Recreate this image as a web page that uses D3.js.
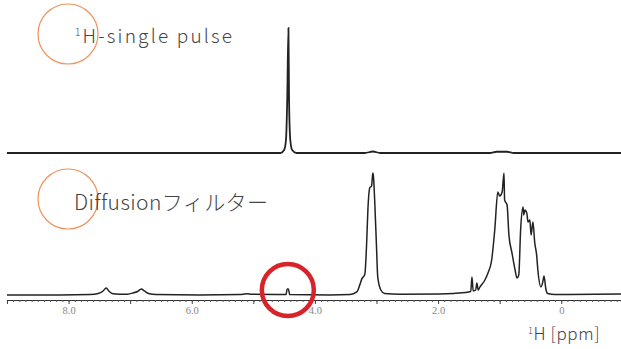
<!DOCTYPE html>
<html>
<head>
<meta charset="utf-8">
<script src="https://cdn.jsdelivr.net/npm/d3@7"></script>
<style>
  body { margin: 0; background: #fff; }
  svg { display: block; }
  .lbl { font-family: "Noto Sans CJK JP", "Noto Sans", sans-serif; font-weight: 300; fill: #444; }
  .tick text { font-family: "Liberation Serif", "DejaVu Serif", serif; fill: #888; }
</style>
</head>
<body>
<svg id="chart" width="621" height="349"></svg>
<script>
// top trace: 1H single pulse (ppm, relative intensity)
let top_ppm = [9.0, 4.56, 4.50, 4.47, 4.45, 4.43, 4.42, 4.40, 4.37, 4.30, 3.19, 3.06, 2.94, 1.16, 1.05, 0.88, 0.77, -0.97];
let top_int = [0, 0, 2.4, 10.4, 42, 100, 42, 10.4, 2.4, 0, 0, 1.2, 0, 0, 1, 1, 0, 0];

// bottom trace: diffusion filter
let bot_ppm = [9.0, 8.14, 7.65, 7.52, 7.44, 7.39, 7.34, 7.28, 7.17, 7.04, 6.96, 6.88, 6.82, 6.77, 6.70, 6.58,
    5.87, 5.22, 5.11, 5.02, 4.47, 4.45, 4.43, 4.41, 3.76, 3.43, 3.32, 3.27, 3.24, 3.19, 3.16, 3.14, 3.11,
    3.08, 3.06, 3.05, 3.03, 3.00, 2.98, 2.93, 2.87, 2.62, 1.97, 1.56, 1.47, 1.45, 1.43, 1.39, 1.37, 1.35,
    1.32, 1.24, 1.19, 1.13, 1.08, 1.03, 1.00, 0.96, 0.93, 0.92, 0.88, 0.85, 0.80, 0.75, 0.72, 0.69, 0.66,
    0.62, 0.61, 0.59, 0.56, 0.54, 0.51, 0.49, 0.46, 0.43, 0.40, 0.38, 0.33, 0.30, 0.28, 0.25, 0.22, 0.10, -0.97];
let bot_int = [0, 0, 0.4, 1.2, 3.3, 5.7, 2.9, 1.0, 0.6, 0.7, 1.6, 2.9, 4.9, 3.3, 1.2, 0.4,
    0, 0.4, 1.0, 0.6, 0.4, 4.9, 4.9, 0.4, 0, 0.4, 2.5, 8.5, 13.0, 17, 42.6, 69.7, 87.7,
    89.4, 100, 97.5, 78, 39.4, 14.8, 4.1, 1.2, 0.6, 0.8, 2.0, 2.9, 14.8, 3.3, 4.1, 9.8, 4.1,
    6.6, 12.3, 18, 28.7, 53.3, 84.4, 81.1, 84.4, 100, 78, 73.8, 49.2, 34.4, 20.5, 13.9, 16.4, 53.3,
    72.1, 65.6, 69.7, 67.2, 59.8, 61.5, 49.2, 59.8, 42.6, 32.8, 20.5, 6.6, 10.7, 15.6, 4.9, 1.2, 0.4, 0.8];

let major_ticks = [8, 6, 4, 2, 0];
let tick_labels = ["8.0", "6.0", "4.0", "2.0", "0"];
let highlight_ppm = 4.44;

let svg = d3.select("#chart");

let x = d3.scaleLinear().domain([9, -0.97]).range([7, 621]);
let y_top = d3.scaleLinear().domain([0, 100]).range([153, 28]);
let y_bot = d3.scaleLinear().domain([0, 100]).range([295, 173]);

function trace(ppm, ints, yscale) {
    let pts = ppm.map((p, i) => [p, ints[i]]);
    return d3.line()
        .x(d => x(d[0]))
        .y(d => yscale(d[1]))
        .curve(d3.curveMonotoneX)(pts);
}

svg.append("path")
    .attr("d", trace(top_ppm, top_int, y_top))
    .attr("fill", "none")
    .attr("stroke", "#222")
    .attr("stroke-width", 1.8);

svg.append("path")
    .attr("d", trace(bot_ppm, bot_int, y_bot))
    .attr("fill", "none")
    .attr("stroke", "#222")
    .attr("stroke-width", 1.5);

// ppm axis, minor ticks every 0.1
let minor = d3.range(90, -10, -1).map(d => d / 10);
svg.append("g")
    .attr("transform", "translate(0,300)")
    .call(d3.axisBottom(x).tickValues(minor).tickSize(2).tickFormat(""))
    .call(g => g.select(".domain").attr("stroke", "#333").attr("stroke-width", 1.2))
    .call(g => g.selectAll(".tick line").attr("stroke", "#555"));

svg.append("g")
    .attr("transform", "translate(0,300)")
    .call(d3.axisBottom(x).tickValues(d3.range(9, -1, -1)).tickSize(4).tickFormat(""))
    .call(g => g.select(".domain").remove())
    .call(g => g.selectAll(".tick line").attr("stroke", "#444"));

svg.append("g")
    .attr("transform", "translate(0,300)")
    .call(d3.axisBottom(x).tickValues(major_ticks).tickSize(4).tickPadding(3)
        .tickFormat((d, i) => tick_labels[i]))
    .call(g => g.select(".domain").remove())
    .call(g => g.selectAll(".tick line").remove())
    .call(g => g.selectAll(".tick text").attr("font-size", 10.5));

// labels
svg.append("circle").attr("cx", 68).attr("cy", 34).attr("r", 30)
    .attr("fill", "none").attr("stroke", "#f0925a").attr("stroke-width", 1.2);
svg.append("circle").attr("cx", 68).attr("cy", 199).attr("r", 30)
    .attr("fill", "none").attr("stroke", "#f0925a").attr("stroke-width", 1.2);

let t1 = svg.append("text").attr("class", "lbl").attr("x", 75).attr("y", 43)
    .attr("font-size", 19).attr("letter-spacing", 2.2);
t1.append("tspan").attr("font-size", 10).attr("dy", -7).text("1");
t1.append("tspan").attr("dy", 7).text("H-single pulse");

svg.append("text").attr("class", "lbl").attr("x", 74).attr("y", 210)
    .attr("font-size", 21).attr("letter-spacing", 0.4)
    .text("Diffusionフィルター");

let t3 = svg.append("text").attr("class", "lbl").attr("x", 528).attr("y", 340)
    .attr("font-size", 17).attr("letter-spacing", 0.6);
t3.append("tspan").attr("font-size", 9).attr("dy", -6).text("1");
t3.append("tspan").attr("dy", 6).text("H [ppm]");

// red highlight circle on the small residual peak
svg.append("circle")
    .attr("cx", x(highlight_ppm)).attr("cy", 290).attr("r", 26)
    .attr("fill", "none").attr("stroke", "#d8232a").attr("stroke-width", 4.5);
</script>
</body>
</html>
